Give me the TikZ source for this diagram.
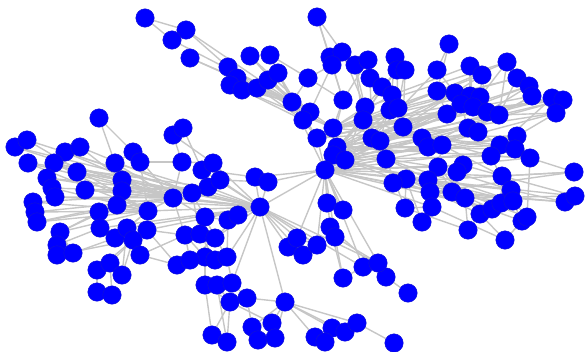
\documentclass[tikz,border=0pt]{standalone}
\usetikzlibrary{backgrounds}
\definecolor{nodeblue}{RGB}{0,0,255}
\definecolor{nodeedge}{RGB}{20,20,210}
\definecolor{edgegray}{RGB}{198,198,198}
\tikzset{
  vtx/.style={circle,fill=nodeblue,draw=nodeedge,line width=0.4pt,minimum size=18.5pt,inner sep=0pt},
  lnk/.style={draw=edgegray,line width=1.4pt}
}
\begin{document}
\begin{tikzpicture}[x=1pt,y=-1pt]
\useasboundingbox (0,0) rectangle (585,351);
\foreach \i/\px/\py in {
1/145/18,2/186/30,3/172/40,4/190/58,
5/317/17,6/250/56,7/270/55,8/228/67,9/237/78,10/230/85,11/242/90,12/257/88,13/268/80,14/278/73,15/308/78,16/292/102,
17/330/57,18/342/52,19/332/65,20/355/65,21/368/60,22/370/78,23/382/87,24/392/95,25/395/57,26/397/70,27/405/70,
28/343/100,29/365/107,30/363/120,31/390/110,32/398/108,33/310/112,34/303/120,35/333/128,36/317/138,37/372/138,38/380/141,
39/337/147,40/333/155,41/345/160,42/386/159,43/325/170,44/403/127,45/422/138,46/428/147,47/442/145,48/438/167,
49/449/44,50/437/70,51/470/66,52/482/75,53/507/62,54/517/78,55/529/86,56/532/96,57/552/98,58/563/100,59/556/113,
60/437/91,61/455/93,62/470/96,63/480/97,64/447/114,65/461/104,66/473/107,67/487/112,68/499/115,69/468/128,70/478/132,
71/517/136,72/500/145,73/515/149,74/491/156,75/530/158,76/574/172,77/463/165,78/457/172,79/406/179,80/393/183,
81/428/180,82/430/192,83/432/207,84/405/208,85/422/222,86/452/192,87/465/198,88/480/214,89/492/209,90/501/203,
91/502/176,92/511/190,93/513/201,94/522/221,95/527/217,96/468/230,97/505/240,98/565/202,99/575/196,
100/386/277,101/408/293,102/394/343,103/363/267,104/378/263,105/343/278,106/327/203,107/343/210,108/330/227,109/335/237,
110/288/247,111/297/238,112/303/255,113/317/245,114/315/337,115/332/328,116/345/332,117/357/323,118/325/342,119/285/302,
120/252/327,121/272/323,122/258/340,123/275/338,124/212/335,125/227/342,126/230/302,127/247/298,128/205/285,129/217/285,
130/232/283,131/205/257,132/215/260,133/227/257,134/185/235,135/200/234,136/215/238,137/205/217,138/228/220,139/238/215,
140/260/207,141/255/177,142/268/182,143/202/170,144/213/163,145/208/187,146/220/180,147/192/193,148/173/198,149/182/162,
150/173/135,151/183/128,152/148/211,153/147/230,154/177/265,155/190/260,
156/99/118,157/15/147,158/27/140,159/28/163,160/65/152,161/80/147,162/54/163,163/77/172,164/47/178,165/52/188,
166/55/197,167/85/190,168/33/202,169/35/212,170/37/222,171/60/232,172/57/245,173/57/255,174/73/253,175/115/163,
176/133/152,177/140/162,178/122/180,179/122/191,180/117/205,181/99/212,182/100/228,183/115/238,184/127/228,185/133/240,
186/140/255,187/97/270,188/110/263,189/122/275,190/97/292,191/112/295}
  \node[vtx] (n\i) at (\px,\py) {};
\begin{scope}[on background layer]
\foreach \a/\b in {
1/2,1/3,2/16,3/16,4/16,2/8,4/12,
6/16,7/15,8/16,9/16,10/16,11/16,12/16,13/16,14/16,6/33,7/16,8/34,9/33,10/35,11/34,12/35,13/33,14/36,15/16,15/28,15/19,16/33,16/34,16/43,
5/17,5/18,5/28,17/19,17/28,18/29,19/33,20/29,21/22,20/30,21/28,22/23,23/24,22/37,23/30,24/38,25/26,25/31,26/32,27/32,27/44,26/29,
28/35,28/43,29/35,30/39,31/37,32/44,33/35,34/36,35/39,36/43,37/41,38/42,39/40,40/43,41/43,42/43,44/45,45/46,46/47,47/48,44/37,30/40,29/41,31/43,32/39,24/35,26/40,
48/43,47/41,46/39,45/40,48/42,
49/50,49/60,50/61,50/37,51/62,52/63,51/66,52/67,53/68,54/68,55/67,56/68,57/67,58/68,59/68,57/72,59/71,53/63,
60/35,61/39,62/30,63/37,64/41,65/43,66/40,67/35,68/39,69/41,70/43,71/37,72/40,73/43,74/41,75/39,77/43,78/48,
60/61,61/62,62/63,65/66,66/67,67/68,69/70,71/72,72/73,73/74,74/75,60/64,64/65,69/65,70/72,77/78,75/76,
58/45,59/46,57/44,56/47,55/38,54/31,53/32,52/44,51/24,68/47,67/46,73/45,75/48,71/41,59/39,58/35,
56/36,57/40,58/30,55/39,54/35,53/29,52/30,66/36,63/39,62/41,65/35,69/36,70/40,72/35,73/39,74/30,71/43,68/41,64/36,61/37,
79/80,79/43,80/43,81/48,82/81,83/84,84/79,85/83,86/82,87/86,88/89,89/90,90/91,91/92,92/93,93/90,94/95,95/93,96/87,97/94,97/88,98/99,98/92,99/91,76/91,96/88,
81/43,82/41,83/43,84/42,85/79,86/48,87/80,88/48,89/43,90/41,91/47,92/48,93/42,94/79,95/81,96/84,97/83,98/82,99/81,76/81,76/82,98/86,99/87,91/77,95/75,94/74,
86/40,87/43,89/42,90/80,92/79,93/41,88/79,91/43,
43/106,43/107,43/108,43/109,106/107,108/109,109/105,108/105,43/103,43/104,140/103,140/104,103/104,104/100,100/101,103/105,109/104,108/100,
140/110,140/111,140/112,140/113,110/111,111/113,112/113,110/112,43/113,43/111,
117/102,119/114,119/115,119/116,119/117,114/118,115/116,116/117,118/115,119/120,119/121,119/123,119/127,119/140,
120/121,120/122,121/123,122/123,120/127,121/126,124/125,124/126,125/126,126/127,127/130,126/129,128/129,129/130,128/131,130/133,
131/132,132/133,131/134,132/135,133/136,134/135,135/136,136/137,137/138,138/139,135/137,136/139,133/138,128/126,124/128,125/129,
140/137,140/138,140/139,140/141,140/142,141/142,43/140,43/141,43/142,140/146,140/145,140/147,140/148,140/152,140/144,140/143,141/143,142/146,
143/144,143/145,145/146,144/149,145/147,147/148,148/152,149/150,150/151,151/143,150/144,149/148,152/153,153/134,153/154,154/155,155/134,154/186,
134/148,135/147,136/140,137/147,153/140,155/136,130/140,133/140,137/148,
156/176,156/175,157/158,157/148,158/152,159/152,159/148,160/161,160/148,161/147,162/152,162/163,163/140,164/165,165/166,164/148,165/152,166/140,
167/148,167/140,168/169,169/170,168/152,169/148,170/180,171/152,171/181,172/173,173/174,172/182,174/183,
175/176,176/177,177/149,175/148,176/148,177/152,178/179,179/180,178/148,179/140,180/181,181/182,182/183,183/184,184/185,185/186,
180/152,181/148,182/140,183/152,184/152,185/153,186/134,184/140,178/140,175/140,161/178,162/178,157/140,158/147,163/147,164/147,166/148,168/147,170/148,
160/147,159/145,165/147,169/152,167/145,163/148,162/147,170/152,
187/188,188/189,187/190,190/191,188/191,187/185,188/185,189/185,189/184,172/171,174/171,171/180,173/185}
  \draw[lnk] (n\a) -- (n\b);
\end{scope}
\end{tikzpicture}
\end{document}
